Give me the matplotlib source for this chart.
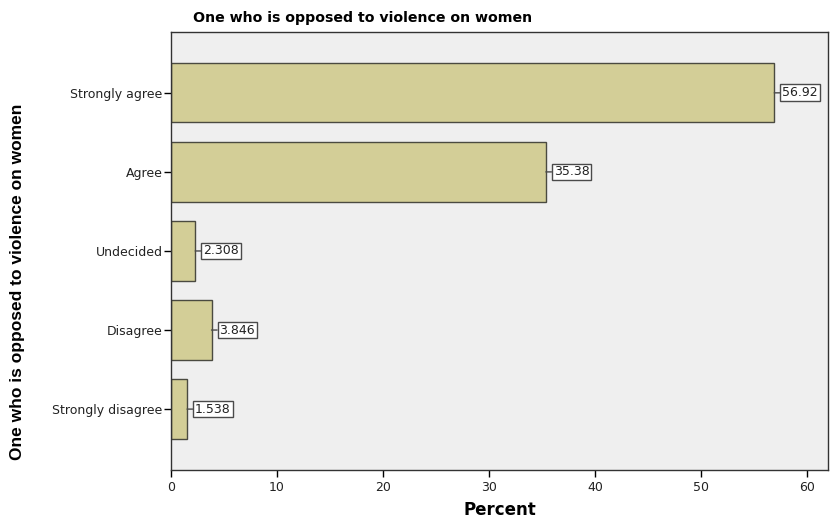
import numpy as np
import matplotlib
matplotlib.use('Agg')
import matplotlib.pyplot as plt

# Données
categories = ['Strongly disagree', 'Disagree', 'Undecided', 'Agree', 'Strongly agree']
percents = [1.538, 3.846, 2.308, 35.38, 56.92]
xticks = [0, 10, 20, 30, 40, 50, 60]

titre = 'One who is opposed to violence on women'

fig = plt.figure(figsize=(8.3, 5.18), dpi=100)
ax = fig.add_axes([0.2057, 0.0927, 0.792, 0.8456])
ax.set_facecolor('#efefef')

y = np.arange(len(categories))
ax.barh(y, percents, height=0.75, color='#d3ce97', edgecolor='#4a4a40', linewidth=1.0, zorder=2)

# Etiquettes de valeur dans des boites
for yi, v in zip(y, percents):
    ax.annotate(f'{v:.4g}', xy=(v, yi), xytext=(8, 0), textcoords='offset pixels',
                ha='left', va='center', fontsize=9, color='#222222',
                bbox=dict(boxstyle='square,pad=0.15', fc='white', ec='#4a4a4a', lw=1.0),
                arrowprops=dict(arrowstyle='-', color='#4a4a4a', lw=1.0, shrinkA=0, shrinkB=0),
                zorder=3)

ax.set_xlim(0, 62)
ax.set_ylim(-0.77, 4.77)
ax.set_xticks(xticks)
ax.set_yticks(y)
ax.set_yticklabels(categories, fontsize=9, color='#222222')
ax.tick_params(axis='x', labelsize=9, labelcolor='#222222', length=5, width=1, direction='out', pad=3)
ax.tick_params(axis='y', length=5, width=1, direction='out', pad=1)
for s in ax.spines.values():
    s.set_color('#333333')
    s.set_linewidth(1.0)

ax.set_xlabel('Percent', fontsize=12, fontweight='bold', labelpad=5)
ax.set_ylabel(titre, fontsize=12.5, fontweight='bold', family='Liberation Sans')
ax.yaxis.set_label_coords(-0.222, 0.43)
fig.text(0.437, 0.965, titre, ha='center', va='center', fontsize=10.2, fontweight='bold')

plt.savefig('out.png', dpi=100)
